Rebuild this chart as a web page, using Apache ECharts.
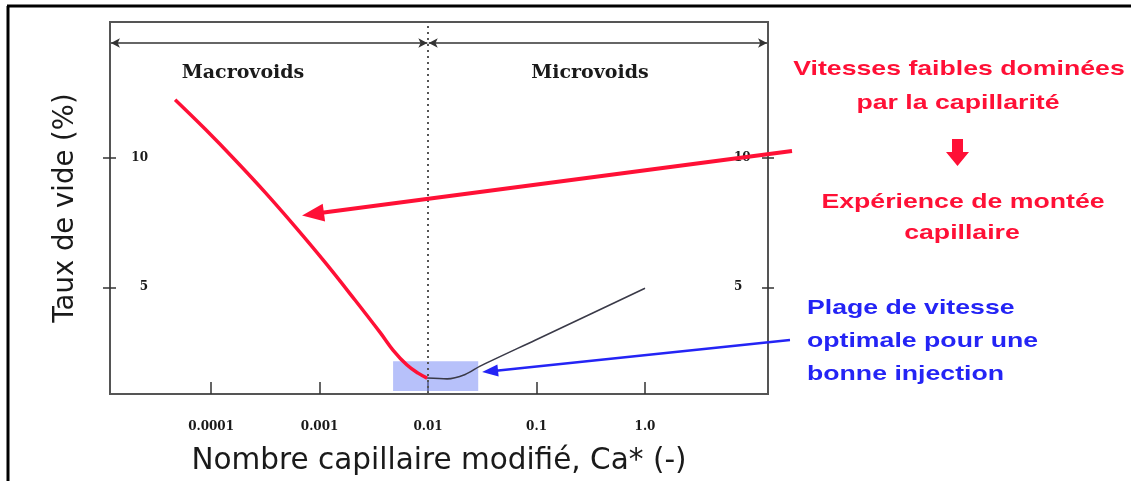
<!DOCTYPE html>
<html><head><meta charset="utf-8">
<script src="https://cdn.jsdelivr.net/npm/echarts@6/dist/echarts.min.js"></script>
<style>html,body{margin:0;padding:0;background:#fff}#c{width:1131px;height:481px}</style>
</head><body><div id="c"></div>
<script>
// Macrovoids branch (red): modified capillary number Ca* and void content (%)
const macroCa   = [0.0000466, 0.0000881, 0.0001665, 0.000315, 0.000595, 0.001125, 0.00212, 0.00361, 0.00475, 0.0064, 0.00809, 0.0098];
const macroVoid = [12.23, 11.10, 9.91, 8.66, 7.34, 5.96, 4.51, 3.26, 2.58, 2.00, 1.69, 1.50];
// Microvoids branch (dark)
const microCa   = [0.0098, 0.0150, 0.0220, 0.0302, 0.097, 0.312, 1.0];
const microVoid = [1.50, 1.47, 1.64, 1.96, 2.96, 3.96, 4.96];
// Optimal speed range (highlighted box): [Ca min, Ca max], [void min, void max]
const optimalCa   = [0.00476, 0.029];
const optimalVoid = [1.0, 2.15];
// Regime boundary
const boundaryCa = 0.01;
const regimeArrowVoid = 14.42;
// Axis ranges and ticks
const xRange = [0.0000117, 13.6];
const yRange = [0.885, 15.23];
const xTickValues = [0.0001, 0.001, 0.01, 0.1, 1];
const xTickLabels = ['0.0001', '0.001', '0.01', '0.1', '1.0'];
const yTickValues = [5, 10];
const yTickLabels = ['5', '10'];
// Annotation targets (data points the arrows point to)
const redArrowTarget  = [0.00069, 7.77];
const blueArrowTarget = [0.0315, 1.73];

const RED = '#ff1036';
const BLUE = '#2424f5';
const tickFont = {fontFamily: 'DejaVu Serif', fontWeight: 'bold', fontSize: 12, color: '#1a1a1a'};

const chart = echarts.init(document.getElementById('c'));

function yAx(pos, inside, labels, len) {
  return {
    type: 'value', position: pos, min: yRange[0], max: yRange[1],
    axisLine: {show: false}, splitLine: {show: false},
    axisTick: {show: true, inside: inside, length: len, customValues: yTickValues, lineStyle: {color: '#333', width: 1.5}},
    axisLabel: labels ? Object.assign({show: true, inside: true, customValues: yTickValues,
      align: pos === 'left' ? 'right' : 'left', margin: pos === 'left' ? 38 : 34,
      formatter: v => yTickLabels[yTickValues.indexOf(v)] || ''}, tickFont) : {show: false}
  };
}

const option = {
  animation: false,
  backgroundColor: '#fff',
  grid: {left: 110, right: 363, top: 22, bottom: 86, show: true, borderColor: '#555', borderWidth: 2, backgroundColor: 'transparent'},
  xAxis: {
    type: 'log', logBase: 10, min: xRange[0], max: xRange[1],
    axisLine: {show: false}, splitLine: {show: false},
    axisTick: {show: true, inside: true, length: 12, customValues: xTickValues, lineStyle: {color: '#333', width: 1.5}},
    axisLabel: Object.assign({show: true, margin: 27, customValues: xTickValues,
      formatter: v => { const i = xTickValues.findIndex(t => Math.abs(t - v) / t < 1e-6); return i >= 0 ? xTickLabels[i] : ''; }}, tickFont),
    name: 'Nombre capillaire modifié, Ca* (-)', nameLocation: 'middle', nameGap: 52,
    nameTextStyle: {fontFamily: 'DejaVu Sans', fontSize: 29.5, color: '#1a1a1a'}
  },
  yAxis: [
    Object.assign(yAx('left', false, false, 7), {name: 'Taux de vide (%)', nameLocation: 'middle', nameRotate: 90, nameGap: 30,
      nameTextStyle: {fontFamily: 'DejaVu Sans', fontSize: 27.5, color: '#1a1a1a'}}),
    yAx('left', true, true, 6),
    yAx('right', false, false, 6),
    yAx('right', true, true, 6)
  ],
  series: [
    {
      name: 'Microvoids', type: 'line', yAxisIndex: 0, smooth: 0.3, symbol: 'none',
      data: microCa.map((c, i) => [c, microVoid[i]]),
      lineStyle: {color: '#3a3a48', width: 1.6}, z: 3,
      markArea: {silent: true, itemStyle: {color: 'rgba(112,132,245,0.5)'},
        data: [[{coord: [optimalCa[0], optimalVoid[1]]}, {coord: [optimalCa[1], optimalVoid[0]]}]]},
      markLine: {silent: true, symbol: ['arrow', 'arrow'], symbolSize: [7, 9], label: {show: false},
        lineStyle: {color: '#333', width: 1.5, type: 'solid'},
        data: [
          [{coord: [xRange[0] * 1.02, regimeArrowVoid]}, {coord: [boundaryCa * 0.985, regimeArrowVoid]}],
          [{coord: [boundaryCa * 1.015, regimeArrowVoid]}, {coord: [xRange[1] * 0.98, regimeArrowVoid]}]
        ]}
    },
    {
      name: 'Macrovoids', type: 'line', yAxisIndex: 0, smooth: 0.4, symbol: 'none',
      data: macroCa.map((c, i) => [c, macroVoid[i]]),
      lineStyle: {color: RED, width: 3.5}, z: 4,
      markLine: {silent: true, symbol: 'none', label: {show: false},
        lineStyle: {color: '#555', width: 2, type: [2, 4]},
        data: [{xAxis: boundaryCa}]}
    }
  ]
};
chart.setOption(option);

function arrow(from, to, color, w, headLen, headHalf) {
  const dx = to[0] - from[0], dy = to[1] - from[1];
  const L = Math.sqrt(dx * dx + dy * dy), ux = dx / L, uy = dy / L;
  const bx = to[0] - ux * headLen, by = to[1] - uy * headLen;
  return [
    {type: 'line', shape: {x1: from[0], y1: from[1], x2: bx + ux * 2, y2: by + uy * 2}, style: {stroke: color, lineWidth: w}, z: 10},
    {type: 'polygon', shape: {points: [[to[0], to[1]], [bx - uy * headHalf, by + ux * headHalf], [bx + uy * headHalf, by - ux * headHalf]]},
      style: {fill: color}, z: 10}
  ];
}
const redTo = chart.convertToPixel({gridIndex: 0}, redArrowTarget);
const blueTo = chart.convertToPixel({gridIndex: 0}, blueArrowTarget);
const SX = 1.27;
const redTxt = {fontFamily: 'Liberation Sans', fontWeight: 'bold', fontSize: 21, fill: RED, textAlign: 'center', textVerticalAlign: 'middle'};
const blueTxt = {fontFamily: 'Liberation Sans', fontWeight: 'bold', fontSize: 21, fill: BLUE, textAlign: 'left', textVerticalAlign: 'middle'};
const serifTxt = {fontFamily: 'DejaVu Serif', fontWeight: 'bold', fontSize: 19, fill: '#1a1a1a', textAlign: 'center', textVerticalAlign: 'middle'};
function txt(x, y, s, st) { return {type: 'text', x: x, y: y, scaleX: SX, style: Object.assign({text: s}, st)}; }
const g = [
  {type: 'line', shape: {x1: 7, y1: 6, x2: 1131, y2: 6}, style: {stroke: '#000', lineWidth: 3}},
  {type: 'line', shape: {x1: 8, y1: 6, x2: 8, y2: 481}, style: {stroke: '#000', lineWidth: 3}},
  {type: 'text', x: 243, y: 73, style: Object.assign({text: 'Macrovoids'}, serifTxt)},
  {type: 'text', x: 590, y: 73, style: Object.assign({text: 'Microvoids'}, serifTxt)},
  txt(959, 69, 'Vitesses faibles dominées', redTxt),
  txt(958, 103, 'par la capillarité', redTxt),
  {type: 'polygon', shape: {points: [[952, 139], [963, 139], [963, 152], [969, 152], [957.5, 166], [946, 152], [952, 152]]}, style: {fill: RED}},
  txt(963, 202, 'Expérience de montée', redTxt),
  txt(962, 233, 'capillaire', redTxt),
  txt(807, 308, 'Plage de vitesse', blueTxt),
  txt(807, 341, 'optimale pour une', blueTxt),
  txt(807, 374, 'bonne injection', blueTxt)
].concat(arrow([792, 151], redTo, RED, 4, 22, 9)).concat(arrow([790, 340], blueTo, BLUE, 2.5, 16, 6));
chart.setOption({graphic: {elements: g}});
</script></body></html>
